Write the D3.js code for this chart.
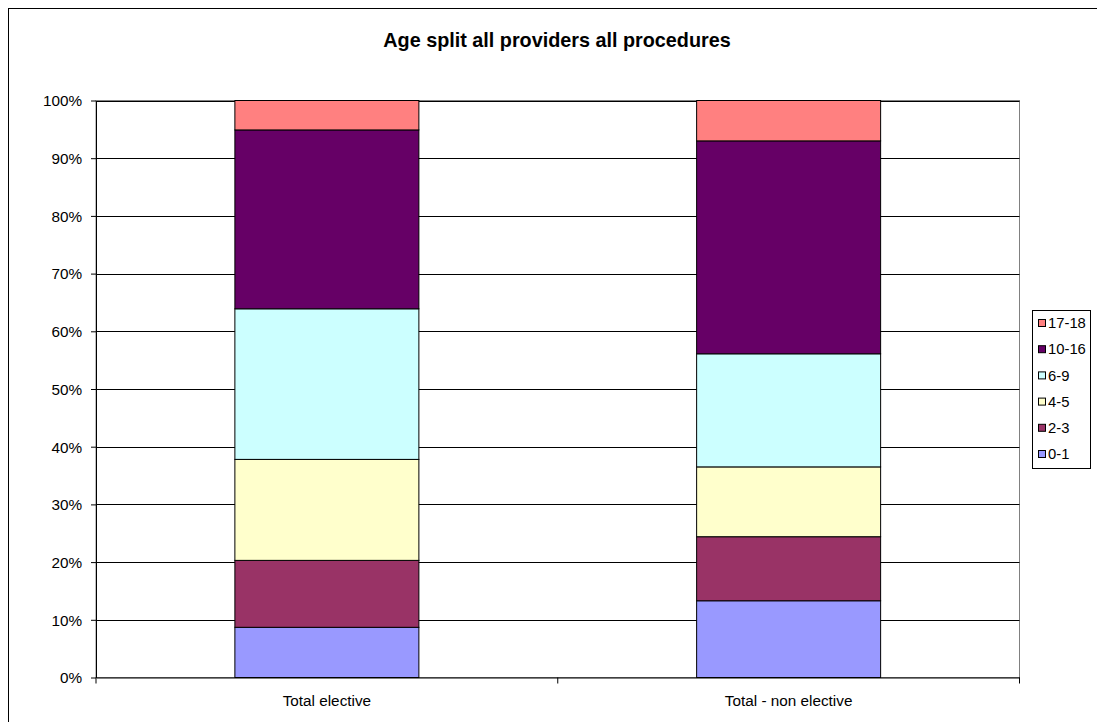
<!DOCTYPE html>
<html>
<head>
<meta charset="utf-8">
<script src="https://cdn.jsdelivr.net/npm/d3@7/dist/d3.min.js"></script>
<style>
  html, body { margin: 0; padding: 0; background: #fff; }
  svg { display: block; font-family: "Liberation Sans", Arial, sans-serif; }
</style>
</head>
<body>
<svg id="chart" width="1097" height="722"></svg>
<script>
// Categories along the x axis
const categories = ["Total elective", "Total - non elective"];
// Age bands, bottom of stack first
const ageBands = ["0-1", "2-3", "4-5", "6-9", "10-16", "17-18"];
// Share of each age band (%) per category
const electiveShares    = [8.7, 11.6, 17.5, 26.1, 31.0, 5.1];
const nonElectiveShares = [13.3, 11.1, 12.1, 19.6, 36.9, 7.0];
const bandColors = ["#9999FF", "#993366", "#FFFFCC", "#CCFFFF", "#660066", "#FF8080"];
const yTicks = [0, 10, 20, 30, 40, 50, 60, 70, 80, 90, 100];

const seriesByCategory = [electiveShares, nonElectiveShares];
const rows = categories.map((c, i) => {
  const row = { category: c };
  ageBands.forEach((b, j) => { row[b] = seriesByCategory[i][j]; });
  return row;
});

const FONT = "Liberation Sans, Arial, sans-serif";
const LABEL_SIZE = 15.3;

const svg = d3.select("#chart");
const plot = { left: 96, right: 1019.5, top: 100.5, bottom: 677.5 };

// Outer chart frame
svg.append("rect")
  .attr("x", 8.5).attr("y", 8.5)
  .attr("width", 1100).attr("height", 720)
  .attr("fill", "#fff").attr("stroke", "#000").attr("stroke-width", 1);

svg.append("text")
  .attr("x", 557).attr("y", 47)
  .attr("text-anchor", "middle")
  .attr("font-size", 19.8).attr("font-weight", "bold")
  .text("Age split all providers all procedures");

const x = d3.scaleBand().domain(categories)
  .range([plot.left, plot.right]).paddingInner(0).paddingOuter(0);
const y = d3.scaleLinear().domain([0, 100]).range([plot.bottom, plot.top]);

// Plot area border
svg.append("rect")
  .attr("x", plot.left).attr("y", plot.top)
  .attr("width", plot.right - plot.left).attr("height", plot.bottom - plot.top)
  .attr("fill", "#fff").attr("stroke", "#808080");

// Horizontal gridlines
svg.append("g").selectAll("line").data(yTicks.filter(t => t > 0)).join("line")
  .attr("x1", plot.left).attr("x2", plot.right)
  .attr("y1", d => Math.round(y(d)) + 0.5).attr("y2", d => Math.round(y(d)) + 0.5)
  .attr("stroke", "#000").attr("stroke-width", 1);

// Stacked bars
const stack = d3.stack().keys(ageBands);
const layers = stack(rows);
const barW = 184;
svg.append("g").selectAll("g").data(layers).join("g")
  .attr("fill", (d, i) => bandColors[i])
  .selectAll("rect").data(d => d).join("rect")
  .attr("x", d => x(d.data.category) + x.bandwidth() / 2 - barW / 2)
  .attr("width", barW)
  .attr("y", d => y(d[1]))
  .attr("height", d => y(d[0]) - y(d[1]))
  .attr("stroke", "#000").attr("stroke-width", 1);

// Y axis
const yAxis = svg.append("g")
  .attr("transform", `translate(${plot.left},0)`)
  .call(d3.axisLeft(y).tickValues(yTicks).tickFormat(d => d + "%").tickSize(5).tickSizeOuter(0));
yAxis.select(".domain").attr("stroke", "#000");
yAxis.selectAll(".tick line").attr("stroke", "#000");
yAxis.selectAll("text").attr("font-size", LABEL_SIZE).attr("fill", "#000")
  .attr("font-family", FONT).attr("x", -14).attr("dy", "0.35em");

// X axis with ticks at category boundaries
const xAxis = svg.append("g")
  .attr("transform", `translate(0,${plot.bottom})`)
  .call(d3.axisBottom(x).tickSize(0).tickSizeOuter(0));
xAxis.select(".domain").attr("stroke", "#000");
xAxis.selectAll("text").attr("font-size", LABEL_SIZE).attr("fill", "#000")
  .attr("font-family", FONT).attr("y", 28.5).attr("dy", 0);
const boundaries = [plot.left, plot.left + x.bandwidth(), plot.right];
svg.append("g").selectAll("line").data(boundaries).join("line")
  .attr("x1", d => d).attr("x2", d => d)
  .attr("y1", plot.bottom).attr("y2", plot.bottom + 6)
  .attr("stroke", "#000");

// Legend, top entry is the top of the stack
const legend = svg.append("g");
legend.append("rect")
  .attr("x", 1032.5).attr("y", 310.5).attr("width", 58).attr("height", 158)
  .attr("fill", "#fff").attr("stroke", "#000");
const legendOrder = ageBands.map((b, i) => ({ band: b, color: bandColors[i] })).reverse();
const item = legend.selectAll("g").data(legendOrder).join("g")
  .attr("transform", (d, i) => `translate(1038,${323 + i * 26.2})`);
item.append("rect")
  .attr("x", 0.5).attr("y", -3.5).attr("width", 7).attr("height", 7)
  .attr("fill", d => d.color).attr("stroke", "#000");
item.append("text")
  .attr("x", 10).attr("y", 0).attr("dy", "0.35em")
  .attr("font-size", 14.8).text(d => d.band);
</script>
</body>
</html>
